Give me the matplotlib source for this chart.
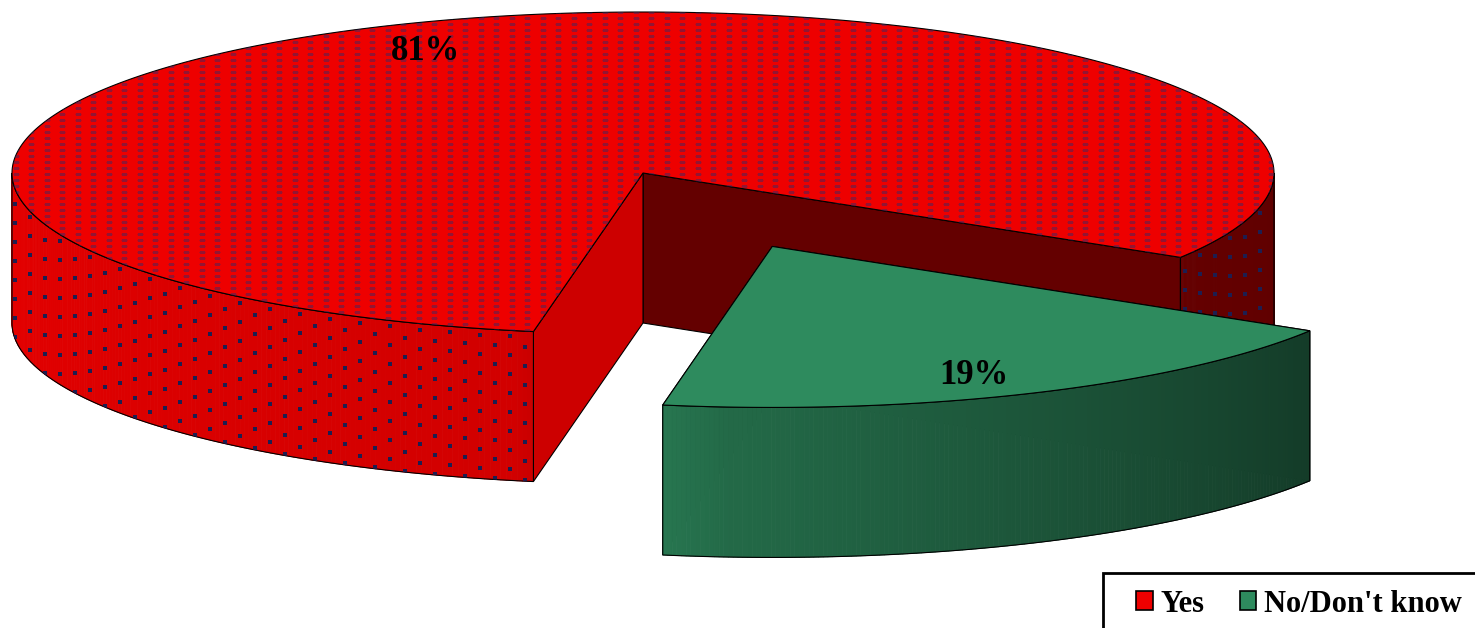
import numpy as np
import matplotlib.pyplot as plt
import matplotlib.colors as mcolors
from matplotlib.patches import Polygon, Patch, Rectangle
from matplotlib.collections import PolyCollection

# ***** DATA *****
labels = ['Yes', "No/Don't know"]
shares = [81, 19]
pct_labels = ['81%', '19%']
top_colors = ['#EE0000', '#2E8B5E']
explode = [0.0, 0.5]
textured = [True, False]

# ***** PIE GEOMETRY (pixels) *****
W, H = 1475, 628
cx, cy = 643, 173      # centre of the top face
rx, ry = 631, 161      # radii of the top ellipse
depth = 150            # thickness of the pie
start_deg = -31.6      # first slice starts here and runs counter-clockwise
label_r = [0.84, 0.78]
label_dy = [2, 15]

plt.rcParams['font.family'] = ['Liberation Serif', 'DejaVu Serif']

fig = plt.figure(figsize=(W / 100, H / 100), dpi=100)
ax = fig.add_axes([0, 0, 1, 1])


def rim(t, ox, oy, z=0):
    return np.column_stack([ox + rx * np.cos(t), oy - ry * np.sin(t) + z])


def shade(deg):
    # brightness of the outer wall depending on where it faces
    d = np.mod(deg, 360)
    return np.interp(d, [180, 258, 266, 330, 360], [0.96, 0.88, 0.76, 0.42, 0.40])


def darker(col, f):
    r, g, b = mcolors.to_rgb(col)
    return (r * f, g * f, b * f)


def front_ranges(a0, a1):
    # parts of [a0, a1] that face the viewer (lower half of the ellipse)
    out = []
    for k in (-1, 0, 1):
        lo, hi = 180 + 360 * k, 360 + 360 * k
        s, e = max(a0, lo), min(a1, hi)
        if e > s:
            out.append((s, e))
    return out


def add_dashes(patch):
    # small dashes on the top face
    xs = np.arange(0, W, 15.5)
    ys = np.arange(0, H, 6.0)
    gx, gy = np.meshgrid(xs, ys)
    sc = ax.scatter(gx.ravel(), gy.ravel(), marker='_', s=14, linewidths=0.9,
                    color='#3a2a66', alpha=0.5, zorder=patch.get_zorder() + 0.1)
    sc.set_clip_path(patch)


def add_dots(patch, ox, oy):
    # staggered dots on the outer wall, following the rim
    pts = []
    for i, x in enumerate(np.arange(0, W, 15.0)):
        u = (x - ox) / rx
        if abs(u) >= 1:
            continue
        y0 = oy + ry * np.sqrt(1 - u * u) + 6 + (i % 2) * 9.5
        for y in np.arange(y0, y0 + depth, 19.0):
            pts.append((x, y))
    pts = np.array(pts)
    sc = ax.scatter(pts[:, 0], pts[:, 1], marker='s', s=5.5, linewidths=0,
                    color='#1e1e50', zorder=patch.get_zorder() + 0.1)
    sc.set_clip_path(patch)


total = sum(shares)
a0 = start_deg
z = 1
for i, share in enumerate(shares):
    a1 = a0 + 360 * share / total
    mid = np.radians((a0 + a1) / 2)
    ox = cx + explode[i] * rx * np.cos(mid)
    oy = cy - explode[i] * ry * np.sin(mid)
    col = top_colors[i]

    # cut faces of the wedge
    for ang, f in ((a0, 0.42), (a1, 0.86)):
        p = rim(np.radians([ang]), ox, oy)[0]
        quad = [(ox, oy), p, (p[0], p[1] + depth), (ox, oy + depth)]
        ax.add_patch(Polygon(quad, closed=True, facecolor=darker(col, f),
                             edgecolor='black', linewidth=0.8, zorder=z))
    z += 1

    # outer wall, shaded strip by strip
    for s, e in front_ranges(a0, a1):
        t = np.linspace(s, e, 160)
        strips = []
        cols = []
        for j in range(len(t) - 1):
            tt = np.radians(t[j:j + 2])
            up = rim(tt, ox, oy)
            strips.append([up[0], up[1], (up[1][0], up[1][1] + depth), (up[0][0], up[0][1] + depth)])
            cols.append(darker(col, shade((t[j] + t[j + 1]) / 2)))
        ax.add_collection(PolyCollection(strips, facecolors=cols, edgecolors=cols,
                                         linewidths=0.6, zorder=z))
        tr = np.radians(t)
        outline = np.vstack([rim(tr, ox, oy), rim(tr[::-1], ox, oy, depth)])
        side = Polygon(outline, closed=True, facecolor='none', edgecolor='black',
                       linewidth=0.8, zorder=z + 0.5)
        ax.add_patch(side)
        if textured[i]:
            add_dots(side, ox, oy)
    z += 1

    # top face
    t = np.radians(np.linspace(a0, a1, 400))
    top_pts = np.vstack([[(ox, oy)], rim(t, ox, oy)])
    top = Polygon(top_pts, closed=True, facecolor=col, edgecolor='black',
                  linewidth=0.8, zorder=z)
    ax.add_patch(top)
    if textured[i]:
        add_dashes(top)
    z += 1

    lx = ox + label_r[i] * rx * np.cos(mid)
    ly = oy - label_r[i] * ry * np.sin(mid) + label_dy[i]
    ax.text(lx, ly, pct_labels[i], ha='center', va='center', fontsize=25,
            fontweight='bold', color='black', zorder=50)
    a0 = a1

# legend box runs off the bottom right corner
ax.add_patch(Rectangle((1103, 573), 420, 120, facecolor='white', edgecolor='black',
                       linewidth=2, zorder=60, clip_on=False))
handles = [Patch(facecolor=c, edgecolor='black', linewidth=1.2) for c in top_colors]
leg = ax.legend(handles, labels, ncol=2, loc='center left',
                bbox_to_anchor=(1136 / W, 1 - 604 / H), bbox_transform=fig.transFigure,
                frameon=False, prop={'weight': 'bold', 'size': 22},
                handlelength=0.55, handleheight=0.55, handletextpad=0.25,
                columnspacing=1.15, borderpad=0, borderaxespad=0)
leg.set_zorder(70)

ax.set_xlim(0, W)
ax.set_ylim(H, 0)
ax.axis('off')
fig.savefig('out.png', dpi=100)
